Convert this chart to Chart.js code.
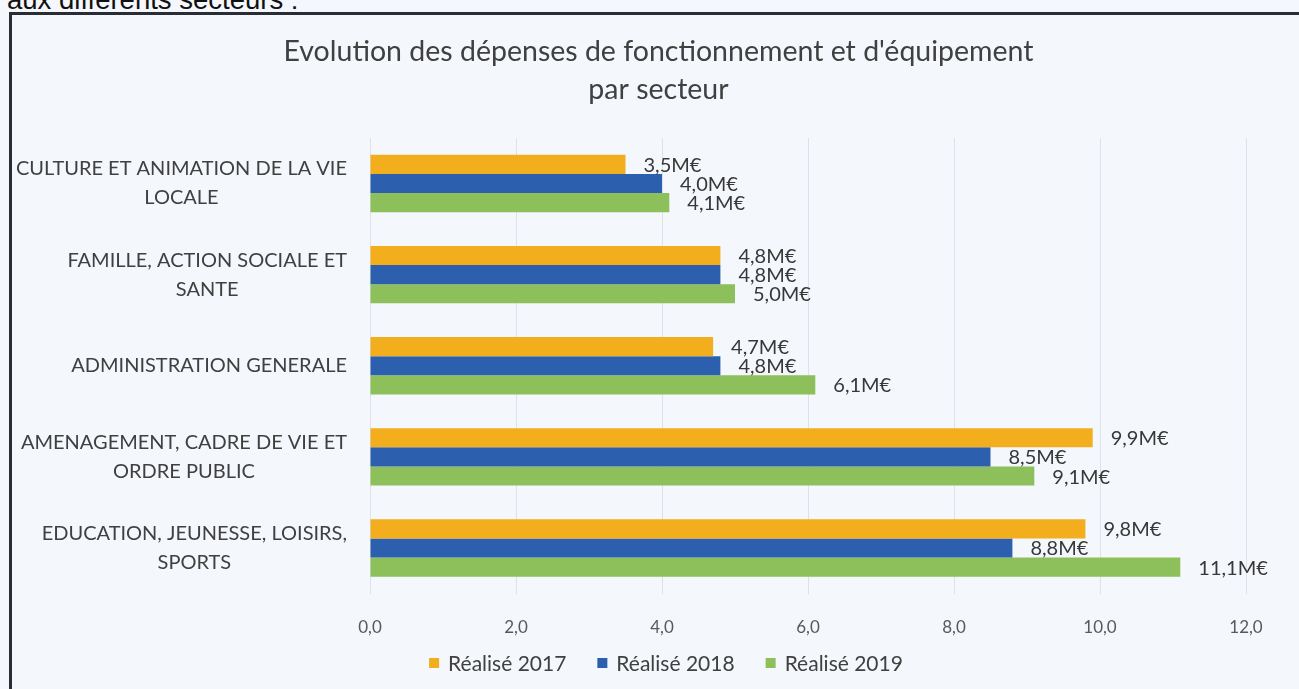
<!DOCTYPE html>
<html lang="fr">
<head>
<meta charset="utf-8">
<title>Evolution des dépenses par secteur</title>
<script src="https://cdn.jsdelivr.net/npm/chart.js@4/dist/chart.umd.min.js"></script>
<style>
    html, body { margin: 0; padding: 0; background: #f4f7fc; overflow: hidden; }
    #intro { position: absolute; left: 7px; top: -16px; font: 27.5px "Liberation Sans", Arial, sans-serif; color: #111; white-space: nowrap; }
    #frame { position: absolute; left: 9px; top: 12px; width: 1400px; height: 800px; border: 3px solid #2a2d33; }
    #wrap { position: absolute; left: 0; top: 0; width: 1299px; height: 689px; }
</style>
</head>
<body>
<div id="intro">aux différents secteurs :</div>
<div id="frame"></div>
<div id="wrap"><canvas id="chart"></canvas></div>
<script>
// Sectors, top to bottom; each label is split into the lines shown on the axis.
const categories = [
    ['CULTURE ET ANIMATION DE LA VIE', 'LOCALE'],
    ['FAMILLE, ACTION SOCIALE ET', 'SANTE'],
    ['ADMINISTRATION GENERALE'],
    ['AMENAGEMENT, CADRE DE VIE ET', 'ORDRE PUBLIC'],
    ['EDUCATION, JEUNESSE, LOISIRS,', 'SPORTS']
];
const realise2017 = [3.5, 4.8, 4.7, 9.9, 9.8];
const realise2018 = [4.0, 4.8, 4.8, 8.5, 8.8];
const realise2019 = [4.1, 5.0, 6.1, 9.1, 11.1];
const seriesNames = ['Réalisé 2017', 'Réalisé 2018', 'Réalisé 2019'];
const xTicks = [0, 2, 4, 6, 8, 10, 12];

const FONT = 'Lato, "Open Sans", sans-serif';
const TEXT = '#404040';

function fr(v) { return v.toFixed(1).replace('.', ','); }

// Value labels "x,xM€" just right of each bar end.
const valueLabels = {
    id: 'valueLabels',
    afterDatasetsDraw(chart) {
        const ctx = chart.ctx;
        ctx.save();
        ctx.font = '20px ' + FONT;
        ctx.fillStyle = '#383838';
        ctx.textAlign = 'left';
        ctx.textBaseline = 'middle';
        chart.data.datasets.forEach(function (ds, i) {
            chart.getDatasetMeta(i).data.forEach(function (bar, j) {
                ctx.fillText(fr(ds.data[j]) + 'M€', bar.x + 18, bar.y + 1);
            });
        });
        ctx.restore();
    }
};

// Category labels: each block right-aligned against the plot, its lines centred within it.
const categoryLabels = {
    id: 'categoryLabels',
    afterDraw(chart) {
        const ctx = chart.ctx;
        const y = chart.scales.y;
        const right = chart.chartArea.left - 23;
        const lh = 29;
        ctx.save();
        ctx.font = '20px ' + FONT;
        ctx.fillStyle = TEXT;
        ctx.textAlign = 'center';
        ctx.textBaseline = 'middle';
        categories.forEach(function (lines, i) {
            const w = Math.max.apply(null, lines.map(function (l) { return ctx.measureText(l).width; }));
            const cx = right - w / 2;
            const cy = y.getPixelForTick(i);
            const top = cy - (lines.length - 1) * lh / 2;
            lines.forEach(function (l, k) { ctx.fillText(l, cx, top + k * lh); });
        });
        ctx.restore();
    }
};

// Legend drawn below the axis, centred under the chart.
const bottomLegend = {
    id: 'bottomLegend',
    afterDraw(chart) {
        const ctx = chart.ctx;
        const box = 10, gap = 9, spacing = 31, cy = 663, centre = 666;
        ctx.save();
        ctx.font = '21px ' + FONT;
        ctx.textBaseline = 'middle';
        ctx.textAlign = 'left';
        const widths = seriesNames.map(function (n) { return ctx.measureText(n).width; });
        const total = widths.reduce(function (a, w) { return a + box + gap + w; }, 0) + spacing * (widths.length - 1);
        let x = centre - total / 2;
        chart.data.datasets.forEach(function (ds, i) {
            ctx.fillStyle = ds.backgroundColor;
            ctx.fillRect(x, cy - box / 2, box, box);
            ctx.fillStyle = TEXT;
            ctx.fillText(seriesNames[i], x + box + gap, cy + 1);
            x += box + gap + widths[i] + spacing;
        });
        ctx.restore();
    }
};

const PAD_LEFT = 71;

new Chart(document.getElementById('chart'), {
    type: 'bar',
    data: {
        labels: categories,
        datasets: [
            { label: seriesNames[0], data: realise2017, backgroundColor: '#f2ae1c' },
            { label: seriesNames[1], data: realise2018, backgroundColor: '#2c5fae' },
            { label: seriesNames[2], data: realise2019, backgroundColor: '#8dbf5b' }
        ]
    },
    options: {
        indexAxis: 'y',
        responsive: true,
        maintainAspectRatio: false,
        animation: false,
        events: [],
        layout: { padding: { left: PAD_LEFT, right: 53, top: 12, bottom: 27 } },
        datasets: { bar: { barPercentage: 1, categoryPercentage: 0.63 } },
        scales: {
            x: {
                min: 0, max: 12,
                afterBuildTicks(scale) { scale.ticks = xTicks.map(function (v) { return { value: v }; }); },
                grid: { color: '#dde2ea', lineWidth: 1, drawTicks: false },
                border: { display: false },
                ticks: {
                    padding: 24,
                    color: '#595959',
                    font: { family: FONT, size: 17 },
                    callback: function (v) { return fr(v); }
                }
            },
            y: {
                grid: { display: false },
                border: { display: false },
                ticks: { display: false },
                afterFit(scale) { scale.width = 370 - PAD_LEFT; }
            }
        },
        plugins: {
            tooltip: { enabled: false },
            legend: { display: false },
            title: {
                display: true,
                text: ["Evolution des dépenses de fonctionnement et d'équipement", 'par secteur'],
                color: TEXT,
                font: { family: FONT, size: 28.5, weight: 'normal', lineHeight: 1.333 },
                padding: { top: 21, bottom: 29 }
            }
        }
    },
    plugins: [valueLabels, categoryLabels, bottomLegend]
});
</script>
</body>
</html>
